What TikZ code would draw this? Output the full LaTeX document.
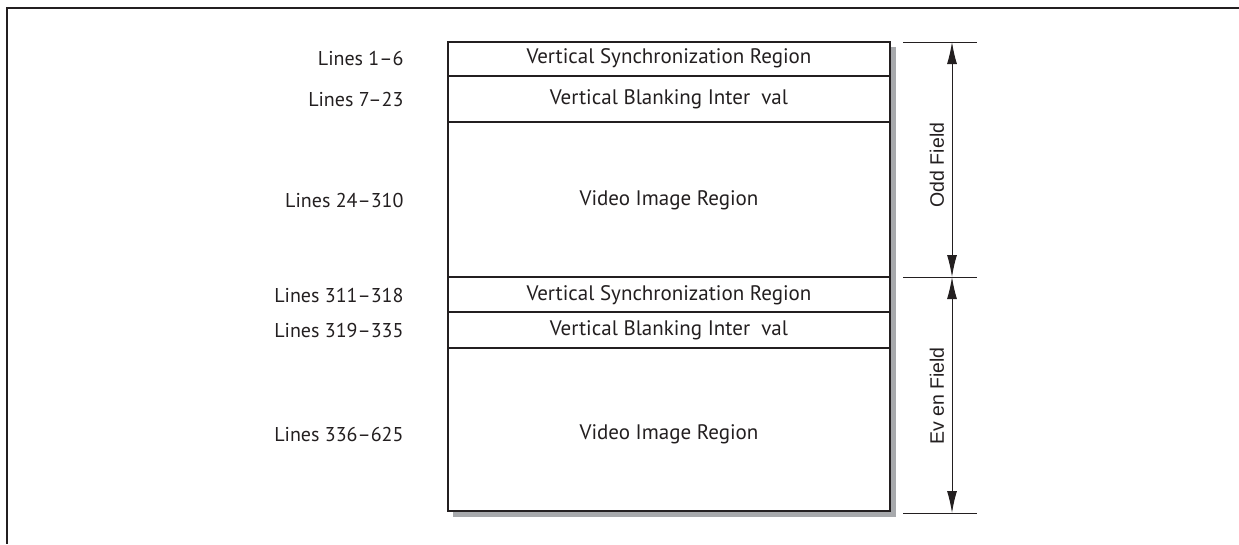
\documentclass[tikz,border=0pt]{standalone}
\usepackage{fontspec}
\setmainfont{PT Sans}
\newfontfamily\arialfont{Liberation Sans}
\usetikzlibrary{arrows.meta}
\definecolor{ink}{HTML}{231F20}
\definecolor{shade}{HTML}{A7A9AC}
\tikzset{
  frameline/.style={draw=ink, line width=2pt},
  rowbox/.style={draw=ink, line width=2.5pt, fill=white},
  shadowbox/.style={fill=shade},
  rowtext/.style={text=ink, font=\fontsize{21}{24}\selectfont, anchor=center},
  linelabel/.style={text=ink, font=\fontsize{20}{24}\selectfont, anchor=east},
  extline/.style={draw=ink, line width=1pt},
  dimline/.style={draw=ink, line width=1pt, {Latex[length=22pt,width=10pt]}-{Latex[length=22pt,width=10pt]}},
  fieldtext/.style={text=ink, font=\arialfont\fontsize{19.5}{22}\selectfont, rotate=90, fill=white, inner sep=2pt}
}
\begin{document}
\begin{tikzpicture}[x=1pt,y=-1pt]
\useasboundingbox (0,0) rectangle (1239,544);
% frame
\draw[frameline] (1239,8) -- (7,8) -- (7,544);
% shadow
\fill[shadowbox] (453,47) rectangle (896,517);
% rows
\draw[rowbox] (448,42) rectangle (890,511);
\draw[ink, line width=2.5pt] (448,76) -- (890,76);
\draw[ink, line width=2.5pt] (448,122) -- (890,122);
\draw[ink, line width=2.5pt] (448,277) -- (890,277);
\draw[ink, line width=2.5pt] (448,312) -- (890,312);
\draw[ink, line width=2.5pt] (448,348) -- (890,348);
% row texts
\node[rowtext] (s1) at (669,58) {Vertical Synchronization Region};
\node[rowtext] (b1) at (669,99) {Vertical Blanking Inter\ \ val};
\node[rowtext] (v1) at (669,200) {Video Image Region};
\node[rowtext] (s2) at (669,295) {Vertical Synchronization Region};
\node[rowtext] (b2) at (669,330) {Vertical Blanking Inter\ \ val};
\node[rowtext] (v2) at (669,434) {Video Image Region};
% line labels
\node[linelabel] (l1) at (407,58) {Lines 1–6};
\node[linelabel] (l2) at (407,99) {Lines 7–23};
\node[linelabel] (l3) at (407,200) {Lines 24–310};
\node[linelabel] (l4) at (407,295) {Lines 311–318};
\node[linelabel] (l5) at (407,330) {Lines 319–335};
\node[linelabel] (l6) at (407,434) {Lines 336–625};
% dimension
\coordinate (t) at (952,42);
\coordinate (m) at (952,277);
\coordinate (b) at (952,513);
\draw[extline] (903,42) -- (977,42);
\draw[extline] (903,277) -- (977,277);
\draw[extline] (903,513) -- (977,513);
\draw[dimline] (t) -- (m);
\draw[dimline] (m) -- (b);
\node[fieldtext] (odd) at (937,165) {Odd Field};
\node[fieldtext] (even) at (937,396) {Ev en Field};
\end{tikzpicture}
\end{document}
